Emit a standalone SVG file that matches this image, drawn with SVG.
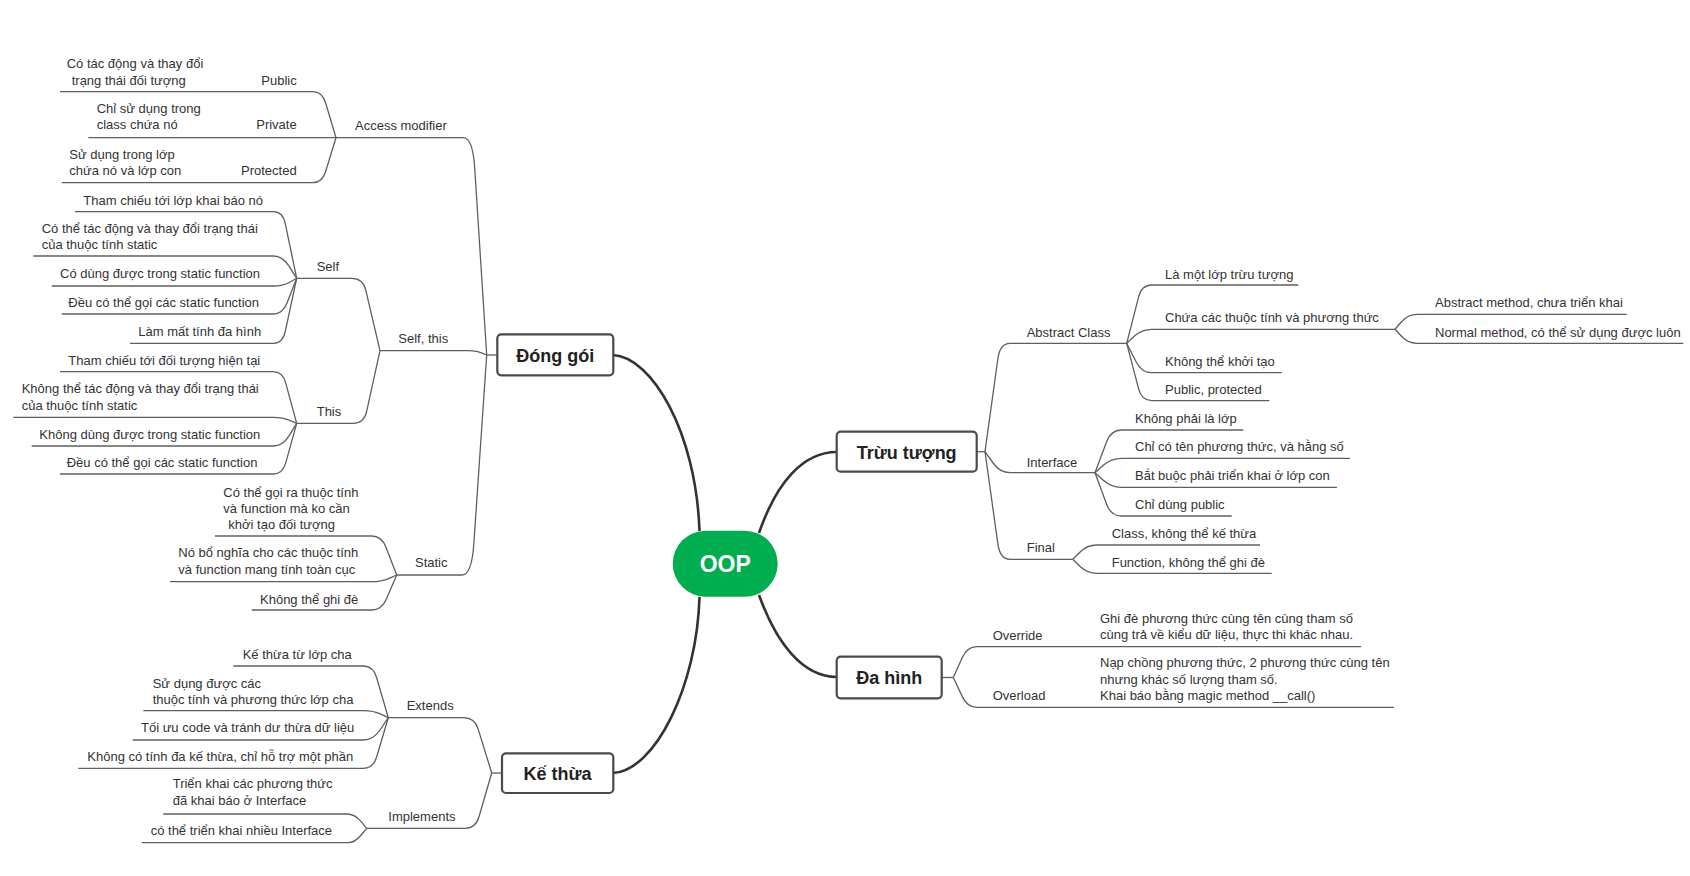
<svg xmlns="http://www.w3.org/2000/svg" width="1690" height="876" viewBox="0 0 1690 876">
<style>
.t{font-family:"Liberation Sans",Arial,sans-serif;font-size:13px;fill:#333}
.e{text-anchor:end}
.m{font-family:"Liberation Sans",Arial,sans-serif;font-size:18px;font-weight:bold;fill:#222;text-anchor:middle}
.root{font-family:"Liberation Sans",Arial,sans-serif;font-size:23px;font-weight:bold;fill:#fff;text-anchor:middle}
.ln{fill:none;stroke:#5f5f5f;stroke-width:1.3}
.main{fill:none;stroke:#333;stroke-width:2.6}
.box{fill:#fff;stroke:#4a4a4a;stroke-width:2.2}
</style>
<rect width="1690" height="876" fill="#fff"/>
<g id="connectors">
<!-- main -->
<path class="main" d="M613,355 C652,357 696,432 699.5,531"/>
<path class="main" d="M613,773 C655,771 697,686 699.5,597"/>
<path class="main" d="M759,533 C776,484 802,452 837,452"/>
<path class="main" d="M759,595 C776,642 802,677 837,677"/>
<!-- Dong goi -->
<path class="ln" d="M486.7,355 H497"/>
<path class="ln" d="M336,137.7 H463.3 Q472.7,137.7 474.7,168 L486.7,355"/>
<path class="ln" d="M380,350.7 H468 Q478,350.7 486.7,355"/>
<path class="ln" d="M396.7,575 H461.7 Q471.7,575 473.8,544.2 L486.7,355"/>
<path class="ln" d="M60,91.7 H313 Q322.2,91.7 325.7,103.2 L336,137.7"/>
<path class="ln" d="M88.3,137.7 H336"/>
<path class="ln" d="M61.7,182.7 H313 Q322.2,182.7 325.7,171.2 L336,137.7"/>
<path class="ln" d="M296.7,278.3 H351.7 Q363,278.3 365.7,289.9 L380,350.7"/>
<path class="ln" d="M296.7,423.3 H353.3 Q364,423.3 366.6,411.7 L380,350.7"/>
<path class="ln" d="M75,211.7 H273.3 Q282.7,211.7 285.2,223.4 L296.7,278.3"/>
<path class="ln" d="M33.3,256 H273.3 Q282.7,256 289.1,266.2 L296.7,278.3"/>
<path class="ln" d="M51.7,286 H273.3 Q282.7,286 289.7,282.2 L296.7,278.3"/>
<path class="ln" d="M61.7,314 H273.3 Q282.7,314 287.1,302.8 L296.7,278.3"/>
<path class="ln" d="M130,343.3 H273.3 Q282.7,343.3 285.2,331.6 L296.7,278.3"/>
<path class="ln" d="M60,371.7 H273.3 Q282.7,371.7 285.8,383.3 L296.7,423.3"/>
<path class="ln" d="M13.3,417.3 H273.3 Q282.7,417.3 289.7,420.3 L296.7,423.3"/>
<path class="ln" d="M31.7,446 H273.3 Q282.7,446 289,435.8 L296.7,423.3"/>
<path class="ln" d="M60,474 H273.3 Q282.7,474 285.9,462.4 L296.7,423.3"/>
<path class="ln" d="M215,536 H371.7 Q381.7,536 386,547.2 L396.7,575"/>
<path class="ln" d="M170,581.7 H371.7 Q381.7,581.7 389.2,578.3 L396.7,575"/>
<path class="ln" d="M251.7,610 H371.7 Q381.7,610 386.4,599 L396.7,575"/>
<!-- Ke thua -->
<path class="ln" d="M491.7,773 H502"/>
<path class="ln" d="M388.3,717.7 H463.3 Q474.7,717.7 478.2,729.1 L491.7,773"/>
<path class="ln" d="M366.7,828.3 H465 Q475.7,828.3 479,816.8 L491.7,773"/>
<path class="ln" d="M233.3,666 H363.3 Q373.3,666 376.6,677.5 L388.3,717.7"/>
<path class="ln" d="M143.3,710.7 H363.3 Q373.3,710.7 380.8,714.2 L388.3,717.7"/>
<path class="ln" d="M132.7,740 H363.3 Q373.3,740 380,730 L388.3,717.7"/>
<path class="ln" d="M78.3,768.3 H363.3 Q373.3,768.3 376.7,756.8 L388.3,717.7"/>
<path class="ln" d="M163.3,814 H346.7 Q354.7,814 360.7,821.2 L366.7,828.3"/>
<path class="ln" d="M141.7,842.7 H348 Q354.7,842.7 360.7,835.5 L366.7,828.3"/>
<!-- Truu tuong -->
<path class="ln" d="M976.7,451.7 H985"/>
<path class="ln" d="M985,451.7 L997.9,358.5 Q1000,343.3 1010,343.3 H1126.7"/>
<path class="ln" d="M985,451.7 L993.1,463 Q1000,472.7 1010,472.7 H1095"/>
<path class="ln" d="M985,451.7 L997.9,544.2 Q1000,559.3 1010,559.3 H1072.7"/>
<path class="ln" d="M1126.7,343.3 L1138.7,296.7 Q1141.7,285 1151.7,285 H1298.3"/>
<path class="ln" d="M1126.7,343.3 L1134.2,336.3 Q1141.7,329.3 1151.7,329.3 H1395"/>
<path class="ln" d="M1126.7,343.3 L1136.2,362 Q1141.7,372.7 1151.7,372.7 H1281.7"/>
<path class="ln" d="M1126.7,343.3 L1138.7,389.2 Q1141.7,400.7 1151.7,400.7 H1269.3"/>
<path class="ln" d="M1395,329.3 L1401.5,321.8 Q1408,314.3 1416.7,314.3 H1626.7"/>
<path class="ln" d="M1395,329.3 L1401.5,336.3 Q1408,343.3 1416.7,343.3 H1683.3"/>
<path class="ln" d="M1095,472.7 L1106.8,441.2 Q1111,430 1121.7,430 H1243.3"/>
<path class="ln" d="M1095,472.7 L1103,465.5 Q1111,458.3 1121.7,458.3 H1350"/>
<path class="ln" d="M1095,472.7 L1103,480 Q1111,487.3 1121.7,487.3 H1337"/>
<path class="ln" d="M1095,472.7 L1106.8,504.7 Q1111,516 1121.7,516 H1231.7"/>
<path class="ln" d="M1072.7,559.3 L1079.9,552.2 Q1087.1,545 1096.7,545 H1260"/>
<path class="ln" d="M1072.7,559.3 L1079.9,566.3 Q1087.1,573.3 1096.7,573.3 H1271.7"/>
<!-- Da hinh -->
<path class="ln" d="M941.7,677.5 H953.3"/>
<path class="ln" d="M953.3,677.5 L962.3,657.6 Q967.3,646.7 976.7,646.7 H1361"/>
<path class="ln" d="M953.3,677.5 L962.3,696.6 Q967.3,707.3 976.7,707.3 H1394"/>
</g>
<g id="oop">
<rect x="672.7" y="530.7" width="105" height="66" rx="33" fill="#00ad4f"/>
<text class="root" x="725.2" y="572">OOP</text>
</g>
<g id="dong-goi">
<rect class="box" x="497.3" y="334.3" width="116" height="41" rx="4"/>
<text class="m" x="555.3" y="362">Đóng gói</text>
</g>
<g id="ke-thua">
<rect class="box" x="502" y="753.3" width="111.3" height="39.7" rx="4"/>
<text class="m" x="557.6" y="780">Kế thừa</text>
</g>
<g id="truu-tuong">
<rect class="box" x="836.7" y="431.7" width="140" height="40" rx="4"/>
<text class="m" x="906.7" y="458.5">Trừu tượng</text>
</g>
<g id="da-hinh">
<rect class="box" x="836.7" y="656.7" width="105" height="41.6" rx="4"/>
<text class="m" x="889.2" y="684">Đa hình</text>
</g>
<g id="access-modifier"><text class="t" x="355" y="130">Access modifier</text></g>
<g id="public"><text class="t e" x="296.7" y="85">Public</text></g>
<g id="public-desc"><text class="t" x="66.7" y="68.3">Có tác động và thay đổi</text><text class="t" x="71.7" y="85">trạng thái đối tượng</text></g>
<g id="private"><text class="t e" x="296.7" y="129">Private</text></g>
<g id="private-desc"><text class="t" x="96.7" y="113.3">Chỉ sử dụng trong</text><text class="t" x="96.7" y="129">class chứa nó</text></g>
<g id="protected"><text class="t e" x="296.7" y="175">Protected</text></g>
<g id="protected-desc"><text class="t" x="69.3" y="159.3">Sử dụng trong lớp</text><text class="t" x="69.3" y="175">chứa nó và lớp con</text></g>
<g id="self-this"><text class="t" x="398.3" y="343.3">Self, this</text></g>
<g id="self"><text class="t" x="316.7" y="270.5">Self</text></g>
<g id="self-1"><text class="t" x="83.3" y="205">Tham chiếu tới lớp khai báo nó</text></g>
<g id="self-2"><text class="t" x="41.7" y="233.3">Có thể tác động và thay đổi trạng thái</text><text class="t" x="41.7" y="248.5">của thuộc tính static</text></g>
<g id="self-3"><text class="t" x="60" y="278">Có dùng được trong static function</text></g>
<g id="self-4"><text class="t" x="68.3" y="306.7">Đều có thể gọi các static function</text></g>
<g id="self-5"><text class="t" x="138.3" y="335.5">Làm mất tính đa hình</text></g>
<g id="this"><text class="t" x="316.7" y="416">This</text></g>
<g id="this-1"><text class="t" x="68.3" y="364.5">Tham chiếu tới đối tượng hiện tại</text></g>
<g id="this-2"><text class="t" x="21.7" y="393.3">Không thể tác động và thay đổi trạng thái</text><text class="t" x="21.7" y="409.5">của thuộc tính static</text></g>
<g id="this-3"><text class="t" x="39.3" y="438.5">Không dùng được trong static function</text></g>
<g id="this-4"><text class="t" x="66.7" y="466.7">Đều có thể gọi các static function</text></g>
<g id="static"><text class="t" x="415" y="567">Static</text></g>
<g id="static-1"><text class="t" x="223.3" y="496.7">Có thể gọi ra thuộc tính</text><text class="t" x="223.3" y="512.7">và function mà ko cần</text><text class="t" x="228.3" y="529">khởi tạo đối tượng</text></g>
<g id="static-2"><text class="t" x="178.3" y="556.7">Nó bổ nghĩa cho các thuộc tính</text><text class="t" x="178.3" y="573.5">và function mang tính toàn cục</text></g>
<g id="static-3"><text class="t" x="260" y="603.5">Không thể ghi đè</text></g>
<g id="extends"><text class="t" x="406.7" y="710">Extends</text></g>
<g id="ext-1"><text class="t" x="242.7" y="658.5">Kế thừa từ lớp cha</text></g>
<g id="ext-2"><text class="t" x="152.7" y="687.7">Sử dụng được các</text><text class="t" x="152.7" y="703.5">thuộc tính và phương thức lớp cha</text></g>
<g id="ext-3"><text class="t" x="141" y="732">Tối ưu code và tránh dư thừa dữ liệu</text></g>
<g id="ext-4"><text class="t" x="87.3" y="760.7">Không có tính đa kế thừa, chỉ hỗ trợ một phần</text></g>
<g id="implements"><text class="t" x="388.3" y="821">Implements</text></g>
<g id="impl-1"><text class="t" x="172.7" y="788.3">Triển khai các phương thức</text><text class="t" x="172.7" y="805">đã khai báo ở Interface</text></g>
<g id="impl-2"><text class="t" x="150.7" y="835">có thể triển khai nhiều Interface</text></g>
<g id="abstract-class"><text class="t" x="1026.7" y="337">Abstract Class</text></g>
<g id="ac-1"><text class="t" x="1165" y="278.5">Là một lớp trừu tượng</text></g>
<g id="ac-2"><text class="t" x="1165" y="322">Chứa các thuộc tính và phương thức</text></g>
<g id="ac-2-1"><text class="t" x="1435" y="307.3">Abstract method, chưa triển khai</text></g>
<g id="ac-2-2"><text class="t" x="1435" y="336.5">Normal method, có thể sử dụng được luôn</text></g>
<g id="ac-3"><text class="t" x="1165" y="365.5">Không thể khởi tạo</text></g>
<g id="ac-4"><text class="t" x="1165" y="393.5">Public, protected</text></g>
<g id="interface"><text class="t" x="1026.7" y="466.5">Interface</text></g>
<g id="if-1"><text class="t" x="1135" y="423">Không phải là lớp</text></g>
<g id="if-2"><text class="t" x="1135" y="451">Chỉ có tên phương thức, và hằng số</text></g>
<g id="if-3"><text class="t" x="1135" y="480">Bắt buộc phải triển khai ở lớp con</text></g>
<g id="if-4"><text class="t" x="1135" y="509">Chỉ dùng public</text></g>
<g id="final"><text class="t" x="1026.7" y="552">Final</text></g>
<g id="fi-1"><text class="t" x="1111.7" y="537.5">Class, không thể kế thừa</text></g>
<g id="fi-2"><text class="t" x="1111.7" y="566.5">Function, không thể ghi đè</text></g>
<g id="override"><text class="t" x="992.7" y="640">Override</text></g>
<g id="override-desc"><text class="t" x="1100" y="623.3">Ghi đè phương thức cùng tên cùng tham số</text><text class="t" x="1100" y="639.3">cùng trả về kiểu dữ liệu, thực thi khác nhau.</text></g>
<g id="overload"><text class="t" x="992.7" y="700">Overload</text></g>
<g id="overload-desc"><text class="t" x="1100" y="667.3">Nạp chồng phương thức, 2 phương thức cùng tên</text><text class="t" x="1100" y="683.5">nhưng khác số lượng tham số.</text><text class="t" x="1100" y="700">Khai báo bằng magic method __call()</text></g>
</svg>
